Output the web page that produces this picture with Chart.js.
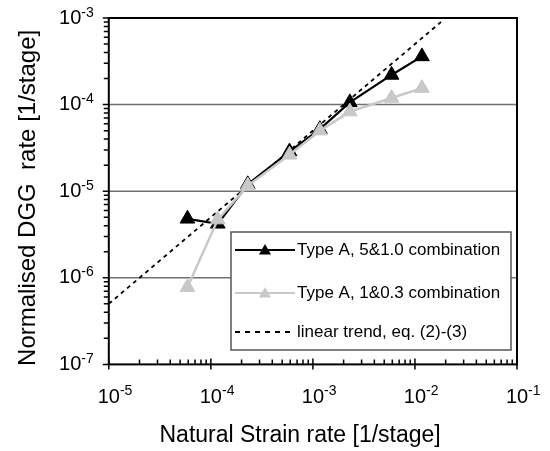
<!DOCTYPE html>
<html>
<head>
<meta charset="utf-8">
<script src="https://cdn.jsdelivr.net/npm/chart.js@4"></script>
<style>
  body { margin: 0; background: #fff; }
</style>
</head>
<body>
<canvas id="myChart" width="550" height="451"></canvas>
<script>
// values (log-log plot)
const strainRate = [5.9e-5, 1.17e-4, 2.3e-4, 5.9e-4, 1.17e-3, 2.3e-3, 5.9e-3, 1.17e-2];
const dggRate5 = [4.8e-6, 4.2e-6, 1.2e-5, 2.87e-5, 5.2e-5, 1.06e-4, 2.2e-4, 3.6e-4];
const dggRate1 = [7.8e-7, 4.7e-6, 1.16e-5, 2.63e-5, 5.0e-5, 8.3e-5, 1.19e-4, 1.55e-4];
const trendStrain = [1e-5, 1.8e-2];
const trendRate = [5e-7, 9e-4];
const xDecades = [1e-5, 1e-4, 1e-3, 1e-2, 1e-1];
const yDecades = [1e-7, 1e-6, 1e-5, 1e-4, 1e-3];
const seriesLabels = ['Type A, 5&1.0 combination', 'Type A, 1&0.3 combination', 'linear trend, eq. (2)-(3)'];

const FONT = '"Liberation Sans", Arial, Helvetica, sans-serif';
const GREY = '#c8c8c8';

function toPoints(xs, ys) {
    return xs.map((x, i) => ({ x: x, y: ys[i] }));
}

function expOf(v) {
    return '-' + String(Math.abs(Math.round(Math.log10(v))));
}

function triangle(ctx, cx, cy, r) {
    ctx.beginPath();
    ctx.moveTo(cx, cy - r);
    ctx.lineTo(cx + r * 0.866, cy + r / 2);
    ctx.lineTo(cx - r * 0.866, cy + r / 2);
    ctx.closePath();
    ctx.fill();
}

// gridlines, frame, ticks, tick labels and the boxed legend
const axisDeco = {
    id: 'axisDeco',
    beforeDatasetsDraw(chart) {
        const { ctx, chartArea: a, scales: { y } } = chart;
        ctx.save();
        ctx.strokeStyle = '#707070';
        ctx.lineWidth = 1.5;
        yDecades.forEach(v => {
            if (v <= y.min || v >= y.max) return;
            const py = y.getPixelForValue(v);
            ctx.beginPath();
            ctx.moveTo(a.left, py);
            ctx.lineTo(a.right, py);
            ctx.stroke();
        });
        ctx.restore();
    },
    afterDatasetsDraw(chart) {
        const { ctx, chartArea: a, scales: { x, y } } = chart;
        ctx.save();
        ctx.strokeStyle = '#000';
        ctx.lineWidth = 2;
        ctx.strokeRect(a.left, a.top, a.right - a.left, a.bottom - a.top);

        ctx.lineWidth = 1.5;
        ctx.beginPath();
        // x ticks: pointing into the plot
        xDecades.forEach(d => {
            const px = x.getPixelForValue(d);
            ctx.moveTo(px, a.bottom + 5);
            ctx.lineTo(px, a.bottom - 6);
            if (d >= x.max) return;
            for (let k = 2; k <= 9; k++) {
                const mx = x.getPixelForValue(k * d);
                ctx.moveTo(mx, a.bottom);
                ctx.lineTo(mx, a.bottom - 5);
            }
        });
        // y ticks: pointing outwards
        yDecades.forEach(d => {
            const py = y.getPixelForValue(d);
            ctx.moveTo(a.left - 6, py);
            ctx.lineTo(a.left, py);
            if (d >= y.max) return;
            for (let k = 2; k <= 9; k++) {
                const my = y.getPixelForValue(k * d);
                ctx.moveTo(a.left - 5, my);
                ctx.lineTo(a.left, my);
            }
        });
        ctx.stroke();

        // tick labels 10^n
        ctx.fillStyle = '#000';
        xDecades.forEach(d => {
            const px = x.getPixelForValue(d);
            ctx.font = '20px ' + FONT;
            ctx.textAlign = 'center';
            ctx.textBaseline = 'alphabetic';
            ctx.fillText('10', px, a.bottom + 39);
            const w = ctx.measureText('10').width;
            ctx.font = '14px ' + FONT;
            ctx.textAlign = 'left';
            ctx.fillText(expOf(d), px + w / 2, a.bottom + 31);
        });
        yDecades.forEach(d => {
            const py = y.getPixelForValue(d);
            ctx.font = '14px ' + FONT;
            ctx.textAlign = 'right';
            ctx.textBaseline = 'alphabetic';
            const ex = expOf(d);
            ctx.fillText(ex, a.left - 15, py - 1.5);
            const ew = ctx.measureText(ex).width;
            ctx.font = '20px ' + FONT;
            ctx.textBaseline = 'middle';
            ctx.fillText('10', a.left - 15 - ew, py);
        });
        ctx.restore();
    },
    afterDraw(chart) {
        const { ctx } = chart;
        const box = { left: 231, top: 232, right: 511, bottom: 350 };
        const rows = [250, 293, 332];
        ctx.save();
        ctx.fillStyle = '#fff';
        ctx.fillRect(box.left, box.top, box.right - box.left, box.bottom - box.top);
        ctx.strokeStyle = '#555';
        ctx.lineWidth = 1.5;
        ctx.strokeRect(box.left, box.top, box.right - box.left, box.bottom - box.top);
        chart.data.datasets.forEach((ds, i) => {
            const yy = rows[i];
            ctx.strokeStyle = ds.borderColor;
            ctx.lineWidth = 2;
            ctx.setLineDash(ds.borderDash ? [5, 5] : []);
            ctx.beginPath();
            ctx.moveTo(235, yy);
            ctx.lineTo(295, yy);
            ctx.stroke();
            ctx.setLineDash([]);
            if (ds.pointRadius > 0) {
                ctx.fillStyle = ds.borderColor;
                triangle(ctx, 265, yy + 1, 7);
            }
            ctx.fillStyle = '#000';
            ctx.font = '17px ' + FONT;
            ctx.textAlign = 'left';
            ctx.textBaseline = 'middle';
            ctx.fillText(ds.label, 297, yy);
        });
        ctx.restore();
    }
};

const ctx = document.getElementById('myChart').getContext('2d');
new Chart(ctx, {
    type: 'line',
    data: {
        datasets: [{
            label: seriesLabels[0],
            data: toPoints(strainRate, dggRate5),
            borderColor: '#000',
            backgroundColor: '#000',
            borderWidth: 2.2,
            pointStyle: 'triangle',
            pointRadius: 8.5,
            pointBorderWidth: 1,
            pointBorderColor: '#000',
            pointBackgroundColor: '#000',
            order: 1
        }, {
            label: seriesLabels[1],
            data: toPoints(strainRate, dggRate1),
            borderColor: GREY,
            backgroundColor: GREY,
            borderWidth: 2.5,
            pointStyle: 'triangle',
            pointRadius: 8.5,
            pointBorderWidth: 1,
            pointBorderColor: GREY,
            pointBackgroundColor: GREY,
            order: 0
        }, {
            label: seriesLabels[2],
            data: toPoints(trendStrain, trendRate),
            borderColor: '#000',
            borderWidth: 1.8,
            borderDash: [4, 4],
            pointRadius: 0,
            order: 2
        }]
    },
    options: {
        responsive: false,
        animation: false,
        devicePixelRatio: 1,
        layout: { padding: { left: 14, top: 18, right: 33, bottom: 2 } },
        plugins: {
            legend: { display: false },
            tooltip: { enabled: false }
        },
        scales: {
            x: {
                type: 'logarithmic',
                min: 1e-5,
                max: 1e-1,
                grid: { display: false, drawTicks: false },
                border: { display: false },
                ticks: { display: false },
                title: {
                    display: true,
                    // trailing spaces nudge the centred title left, as in the figure
                    text: 'Natural Strain rate [1/stage]    ',
                    color: '#000',
                    font: { family: FONT, size: 23 },
                    padding: { top: 57, bottom: 0 }
                }
            },
            y: {
                type: 'logarithmic',
                min: 1e-7,
                max: 1e-3,
                grid: { display: false, drawTicks: false },
                border: { display: false },
                ticks: { display: false },
                title: {
                    display: true,
                    text: 'Normalised DGG  rate [1/stage]  ',
                    color: '#000',
                    font: { family: FONT, size: 24 },
                    padding: { top: 0, bottom: 66 }
                }
            }
        }
    },
    plugins: [axisDeco]
});
</script>
</body>
</html>
